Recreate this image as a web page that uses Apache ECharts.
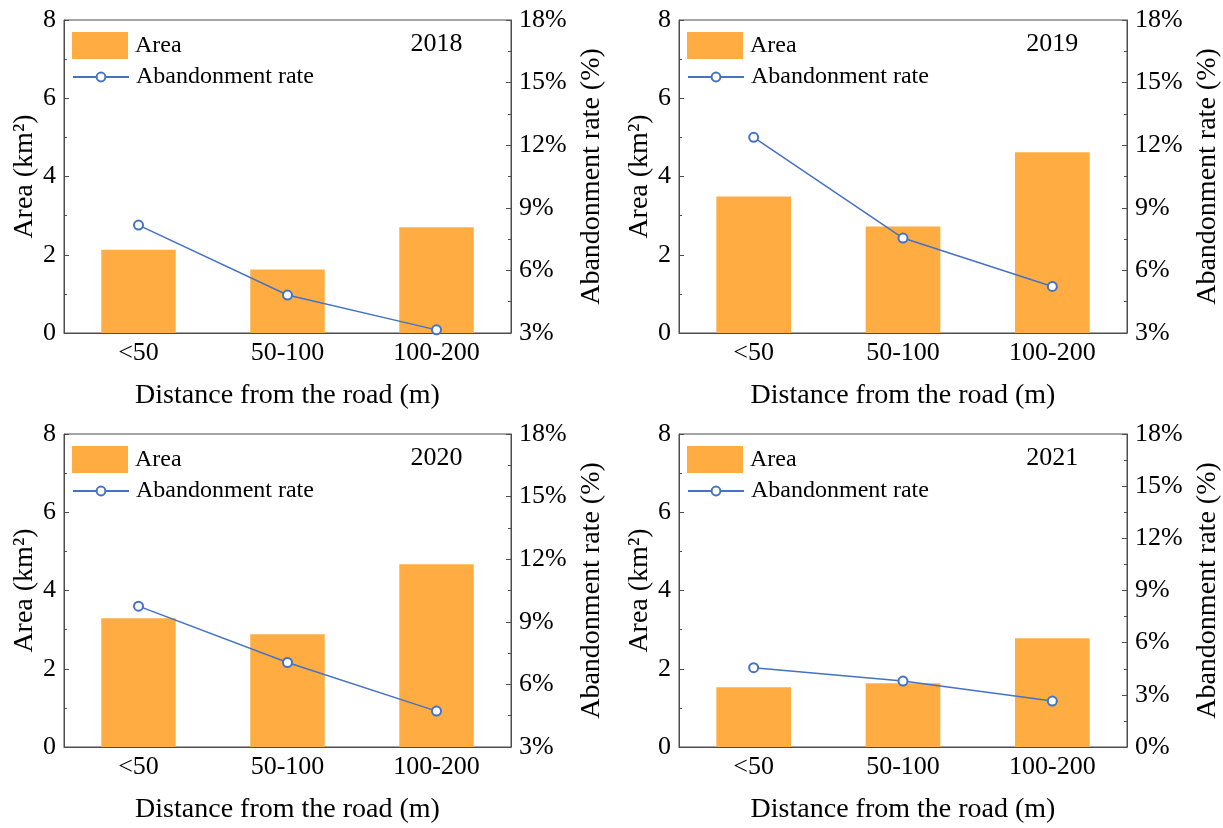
<!DOCTYPE html>
<html>
<head>
<meta charset="utf-8">
<script src="https://cdn.jsdelivr.net/npm/echarts@6/dist/echarts.min.js"></script>
<style>
  html, body { margin: 0; padding: 0; background: #fff; }
  #chart { width: 1223px; height: 828px; }
</style>
</head>
<body>
<div id="chart"></div>
<script>
// Distance classes from the road
const categories = ['<50', '50-100', '100-200'];
const years = ['2018', '2019', '2020', '2021'];

// Abandoned area (km²) per distance class
const area2018 = [2.13, 1.62, 2.70];
const area2019 = [3.49, 2.72, 4.62];
const area2020 = [3.29, 2.88, 4.67];
const area2021 = [1.53, 1.63, 2.78];

// Abandonment rate (%) per distance class
const rate2018 = [8.17, 4.82, 3.15];
const rate2019 = [12.38, 7.55, 5.23];
const rate2020 = [9.75, 7.05, 4.72];
const rate2021 = [4.56, 3.79, 2.64];

// Right-axis lower bound for each year
const rateMin = [3, 3, 3, 0];

const areas = [area2018, area2019, area2020, area2021];
const rates = [rate2018, rate2019, rate2020, rate2021];

const FONT = "'Liberation Serif', 'Times New Roman', serif";
const AXIS_COLOR = '#4d4d4d';
const BAR_COLOR = '#FFAD43';
const LINE_COLOR = '#4472C4';

const panelLefts = [64, 679];
const panelWidths = [447, 448];
const panelTops = [20, 434];
const panelHeight = 313;

const grid = [], xAxis = [], yAxis = [], series = [], legend = [], graphic = [];

years.forEach(function (year, i) {
  const col = i % 2, row = Math.floor(i / 2);
  const left = panelLefts[col], width = panelWidths[col], top = panelTops[row];

  grid.push({
    left: left, top: top, width: width, height: panelHeight,
    show: true, borderColor: AXIS_COLOR, borderWidth: 1, backgroundColor: 'transparent'
  });

  xAxis.push({
    type: 'category', gridIndex: i, data: categories,
    axisLine: { lineStyle: { color: AXIS_COLOR, width: 1 } },
    axisTick: { show: false },
    axisLabel: { color: '#000', fontFamily: FONT, fontSize: 26, margin: 7 },
    name: 'Distance from the road (m)', nameLocation: 'middle', nameGap: 49,
    nameTextStyle: { color: '#000', fontFamily: FONT, fontSize: 28 }
  });

  yAxis.push({
    type: 'value', gridIndex: i, min: 0, max: 8, interval: 2, position: 'left',
    axisLine: { show: true, lineStyle: { color: AXIS_COLOR, width: 1 } },
    axisTick: { show: true, inside: true, length: 5, lineStyle: { color: AXIS_COLOR } },
    minorTick: { show: true, splitNumber: 2, length: 3, lineStyle: { color: AXIS_COLOR } },
    splitLine: { show: false },
    axisLabel: { color: '#000', fontFamily: FONT, fontSize: 26, margin: 8 },
    name: 'Area (km²)', nameLocation: 'middle', nameGap: 25,
    nameTextStyle: { color: '#000', fontFamily: FONT, fontSize: 28 }
  });

  yAxis.push({
    type: 'value', gridIndex: i, min: rateMin[i], max: 18, interval: 3, position: 'right',
    axisLine: { show: true, lineStyle: { color: AXIS_COLOR, width: 1 } },
    axisTick: { show: true, inside: true, length: 5, lineStyle: { color: AXIS_COLOR } },
    minorTick: { show: true, splitNumber: 2, length: 3, lineStyle: { color: AXIS_COLOR } },
    splitLine: { show: false },
    axisLabel: { color: '#000', fontFamily: FONT, fontSize: 26, margin: 8, formatter: '{value}%' },
    name: 'Abandonment rate (%)', nameLocation: 'middle', nameGap: 67,
    nameTextStyle: { color: '#000', fontFamily: FONT, fontSize: 28 }
  });

  series.push({
    name: 'Area', type: 'bar', xAxisIndex: i, yAxisIndex: 2 * i,
    data: areas[i], barWidth: '50%',
    itemStyle: { color: BAR_COLOR }, z: 2
  });

  series.push({
    name: 'Abandonment rate', type: 'line', xAxisIndex: i, yAxisIndex: 2 * i + 1,
    data: rates[i], symbol: 'emptyCircle', symbolSize: 9,
    lineStyle: { color: LINE_COLOR, width: 1.5 },
    itemStyle: { color: LINE_COLOR, borderWidth: 1.5 }, z: 3
  });

  legend.push({
    data: [{ name: 'Area', icon: 'rect' }], left: left + 8, top: top + 12, orient: 'vertical',
    padding: 0, itemWidth: 56, itemHeight: 27, itemGap: 0,
    selectedMode: false,
    textStyle: { color: '#000', fontFamily: FONT, fontSize: 24, padding: [0, 0, 0, 2] }
  });
  legend.push({
    data: ['Abandonment rate'], left: left + 8, top: top + 45, orient: 'vertical',
    padding: 0, itemWidth: 56, itemHeight: 11, itemGap: 0,
    selectedMode: false,
    textStyle: { color: '#000', fontFamily: FONT, fontSize: 24, padding: [0, 0, 0, 2] }
  });

  graphic.push({
    type: 'text', x: left + width * 5 / 6, y: top + 24,
    style: {
      text: year, fill: '#000', font: '26px ' + FONT,
      textAlign: 'center', textVerticalAlign: 'middle'
    }
  });
});

const chart = echarts.init(document.getElementById('chart'), null, { renderer: 'canvas' });
chart.setOption({
  animation: false,
  backgroundColor: '#fff',
  grid: grid, xAxis: xAxis, yAxis: yAxis, series: series,
  legend: legend, graphic: graphic
});
</script>
</body>
</html>
